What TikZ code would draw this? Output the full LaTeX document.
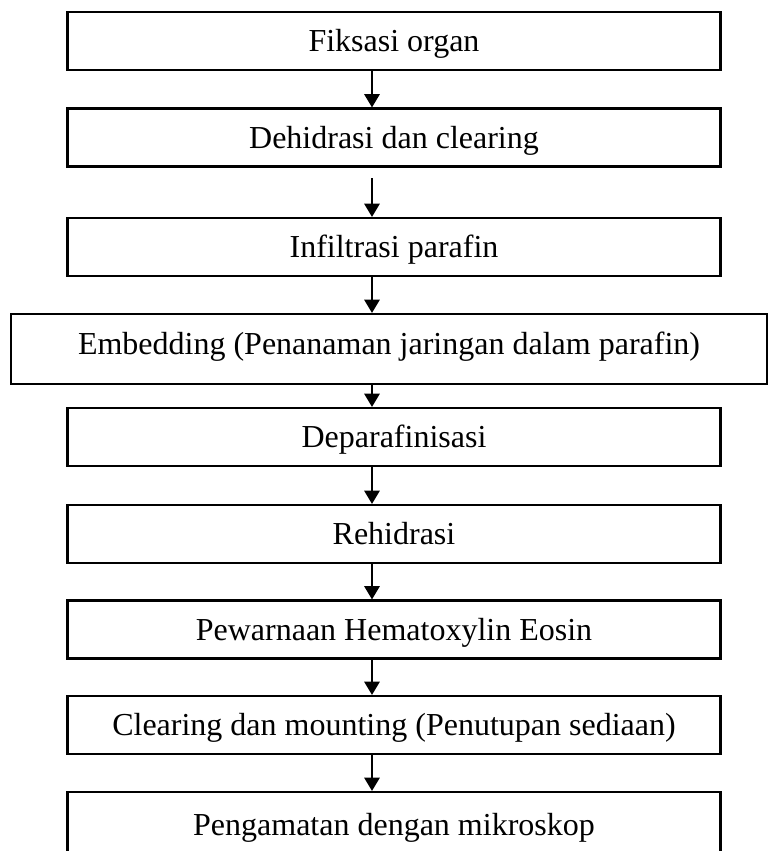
\documentclass[tikz,border=0pt]{standalone}
\usepackage{fontspec}
\setmainfont{Liberation Serif}
\usetikzlibrary{arrows.meta}
\tikzset{
  stepbox/.style={draw, line width=1.6pt, inner sep=0pt,
    minimum width=653*0.75pt, minimum height=58*0.75pt,
    text height=18pt, text depth=2pt,
    font=\fontsize{24}{28}\selectfont},
  flow/.style={line width=1.6pt, -{Triangle[length=10pt,width=11.5pt]}},
}
\begin{document}
\begin{tikzpicture}[x=0.75pt,y=-0.75pt]
\useasboundingbox (0,0) rectangle (768,851);
\node[stepbox] (fiksasi) at (394,41) {Fiksasi organ};
\node[stepbox] (dehidrasi) at (394,137.5) {Dehidrasi dan clearing};
\node[stepbox] (infiltrasi) at (394,247) {Infiltrasi parafin};
\node[stepbox, minimum width=756*0.75pt, minimum height=70*0.75pt,
  text height=14pt, text depth=6.5pt] (embedding) at (389,349) {Embedding (Penanaman jaringan dalam parafin)};
\node[stepbox] (deparafin) at (394,437) {Deparafinisasi};
\node[stepbox] (rehidrasi) at (394,534) {Rehidrasi};
\node[stepbox] (pewarnaan) at (394,629.5) {Pewarnaan Hematoxylin Eosin};
\node[stepbox] (mounting) at (394,725) {Clearing dan mounting (Penutupan sediaan)};
\node[stepbox, minimum height=62*0.75pt, text height=19.5pt, text depth=0.5pt] (pengamatan) at (394,823) {Pengamatan dengan mikroskop};
% arrows all run down one line
\coordinate (ax) at (372,0);
\draw[flow] (fiksasi.south -| ax) -- (dehidrasi.north -| ax);
\draw[flow, shorten <=8pt] (dehidrasi.south -| ax) -- (infiltrasi.north -| ax);
\draw[flow] (infiltrasi.south -| ax) -- (embedding.north -| ax);
\draw[flow] (embedding.south -| ax) -- (deparafin.north -| ax);
\draw[flow] (deparafin.south -| ax) -- (rehidrasi.north -| ax);
\draw[flow] (rehidrasi.south -| ax) -- (pewarnaan.north -| ax);
\draw[flow] (pewarnaan.south -| ax) -- (mounting.north -| ax);
\draw[flow] (mounting.south -| ax) -- (pengamatan.north -| ax);
\end{tikzpicture}
\end{document}
